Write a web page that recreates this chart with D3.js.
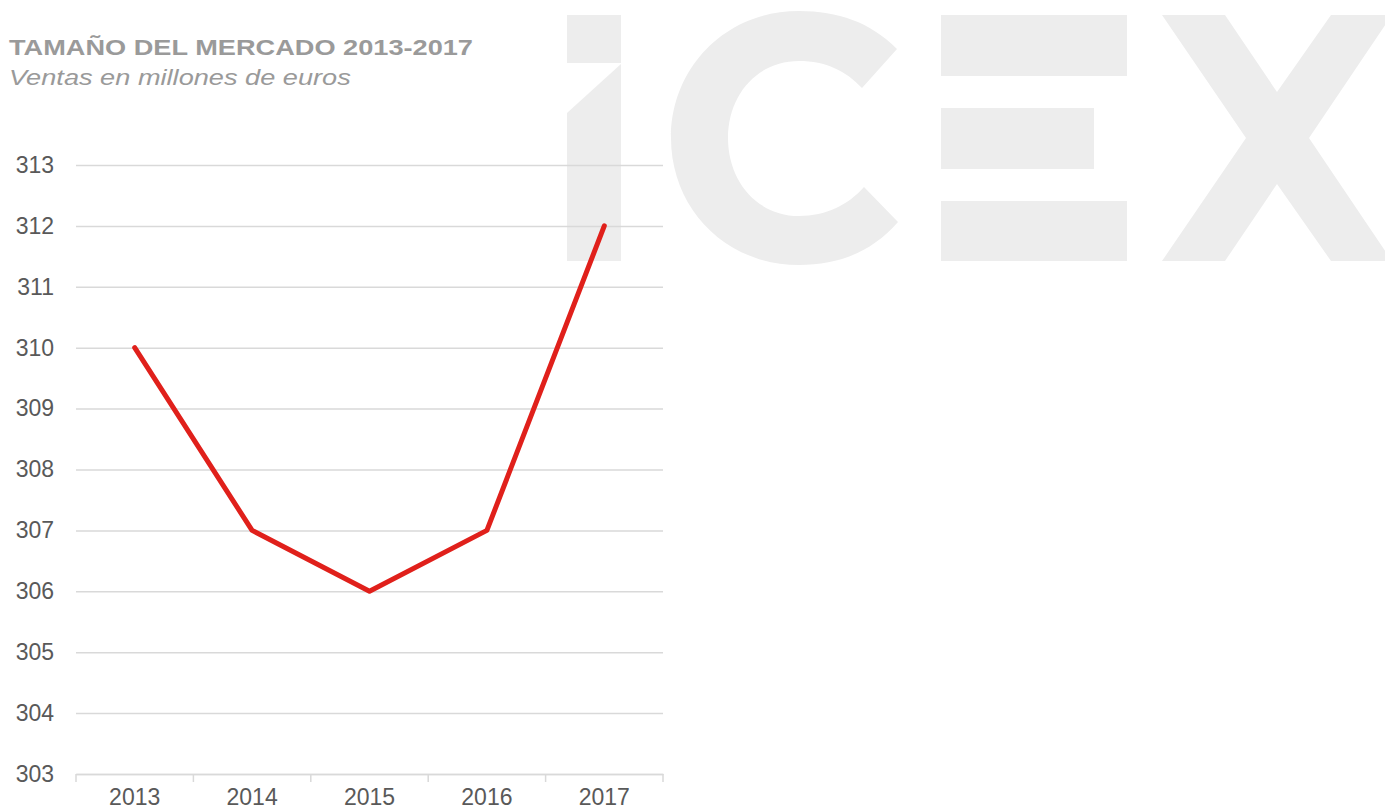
<!DOCTYPE html>
<html>
<head>
<meta charset="utf-8">
<script src="https://cdn.jsdelivr.net/npm/d3@7"></script>
<style>
  body { margin: 0; background: #fff; }
  text { font-family: "Liberation Sans", Arial, sans-serif; }
</style>
</head>
<body>
<div id="chart"></div>
<script>
const years = ["2013", "2014", "2015", "2016", "2017"];
const sales = [310, 307, 306, 307, 312];
const yTicks = [303, 304, 305, 306, 307, 308, 309, 310, 311, 312, 313];

const W = 1385, H = 812;
const margin = {top: 165, right: 722, bottom: 38, left: 76};
const width = W - margin.left - margin.right, height = H - margin.top - margin.bottom;

const svg = d3.select("#chart").append("svg")
    .attr("width", W)
    .attr("height", H);

//icex watermark in the background
const logo = svg.append("g").attr("fill", "#ededed");
logo.append("path").attr("d", "M567,15H621V63H567Z M567,113L621,64V261H567Z");
logo.append("path").attr("d",
    "M897,49 C870,22 838,11 799,11 C725,11 671,68 671,138 C671,208 725,265 799,265 C838,265 872,252 898,222 " +
    "L864,187 C848,205 826,216 799,216 C757,216 728,181 728,138 C728,95 757,61 799,61 C826,61 846,71 862,88 Z");
logo.append("path").attr("d", "M941,15H1127V76H941Z M941,108H1094V169H941Z M941,201H1127V261H941Z");
logo.append("path").attr("d",
    "M1162,15H1225L1277,92L1331,15H1392L1309,138L1392,261H1331L1277,184L1225,261H1162L1246,138Z");

//title (stretched wide like the original)
svg.append("text")
    .attr("transform", "translate(9,55) scale(1.235,1)")
    .attr("font-size", "22px").attr("font-weight", "bold")
    .attr("fill", "#9a9a9a")
    .text("TAMAÑO DEL MERCADO 2013-2017");

svg.append("text")
    .attr("transform", "translate(9,85) scale(1.235,1)")
    .attr("font-size", "22px").attr("font-style", "italic")
    .attr("fill", "#9a9a9a")
    .text("Ventas en millones de euros");

const g = svg.append("g")
    .attr("transform", `translate(${margin.left},${margin.top})`);

const xScale = d3.scaleBand()
    .domain(years)
    .range([0, width]);

const yScale = d3.scaleLinear()
    .domain([303, 313])
    .range([height, 0]);

//gridlines + y labels
const yAxis = g.append("g")
    .call(d3.axisLeft(yScale).tickValues(yTicks).tickSize(-width).tickFormat(d3.format("d")).tickPadding(22));
yAxis.select(".domain").remove();
yAxis.selectAll("line").attr("stroke", "#d9d9d9").attr("stroke-width", 1.5);
yAxis.selectAll("text")
    .attr("font-size", "23px")
    .attr("fill", "#595959");

//x axis with tick marks at band edges
const xAxis = g.append("g")
    .attr("transform", `translate(0,${height})`)
    .call(d3.axisBottom(xScale).tickSize(0).tickPadding(15));
xAxis.select(".domain").attr("stroke", "#d9d9d9").attr("stroke-width", 1.5);
xAxis.selectAll("text")
    .attr("font-size", "23px")
    .attr("fill", "#595959");

const edges = years.map(d => xScale(d)).concat([width]);
xAxis.selectAll(".edge")
    .data(edges)
    .enter()
    .append("line")
    .attr("x1", d => d).attr("x2", d => d)
    .attr("y1", 0).attr("y2", 8)
    .attr("stroke", "#d9d9d9")
    .attr("stroke-width", 1.5);

//line
const line = d3.line()
    .x((d, i) => xScale(years[i]) + xScale.bandwidth() / 2)
    .y(d => yScale(d));

g.append("path")
    .datum(sales)
    .attr("d", line)
    .attr("fill", "none")
    .attr("stroke", "#e0201b")
    .attr("stroke-width", 5)
    .attr("stroke-linecap", "round")
    .attr("stroke-linejoin", "round");
</script>
</body>
</html>
